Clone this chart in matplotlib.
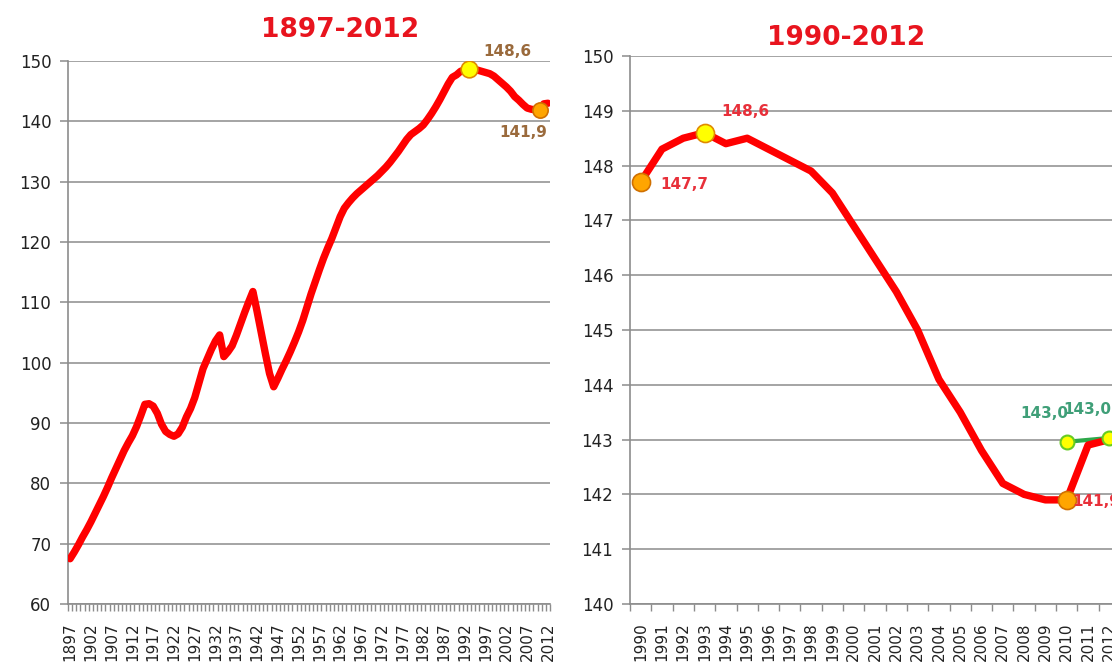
import matplotlib.pyplot as plt

# population, millions
years = list(range(1897, 2013))
population = [
    67.5, 68.6, 69.8,                                                      # 1897-1899
    71.1, 72.3, 73.6, 75.0, 76.4, 77.8, 79.3, 80.9, 82.4, 83.9,            # 1900s
    85.4, 86.7, 87.9, 89.4, 91.2, 93.1, 93.2, 92.8, 91.6, 89.8,            # 1910s
    88.6, 88.1, 87.8, 88.2, 89.3, 91.0, 92.4, 94.2, 96.6, 99.0,            # 1920s
    100.6, 102.2, 103.6, 104.6, 101.0, 101.8, 102.8, 104.5, 106.4, 108.3,  # 1930s
    110.1, 111.8, 108.5, 105.0, 101.5, 98.2, 96.0, 97.4, 98.9, 100.3,      # 1940s
    101.8, 103.4, 105.1, 107.0, 109.2, 111.4, 113.4, 115.4, 117.3, 119.0,  # 1950s
    120.6, 122.4, 124.2, 125.6, 126.5, 127.3, 128.0, 128.6, 129.2, 129.8,  # 1960s
    130.4, 131.0, 131.7, 132.4, 133.2, 134.1, 135.0, 136.0, 137.0, 137.8,  # 1970s
    138.3, 138.8, 139.4, 140.3, 141.3, 142.4, 143.6, 144.9, 146.2, 147.3,  # 1980s
    147.7, 148.3, 148.5, 148.6, 148.4, 148.5, 148.3, 148.1, 147.9, 147.5,  # 1990s
    146.9, 146.3, 145.7, 145.0, 144.1, 143.5, 142.8, 142.2, 142.0, 141.9,  # 2000s
    141.9, 142.9, 143.0,                                                   # 2010-2012
]

# short period on the right panel
short_start = 1990
# second (corrected) series on the right panel
green_years = [2010, 2012]
green_values = [142.96, 143.03]

RED = '#ff0000'
GRID = '#8c8c8c'
YELLOW = '#ffff00'
ORANGE = '#ffa500'

fig = plt.figure(figsize=(11.12, 6.72), dpi=100)
plt.rcParams['font.family'] = 'DejaVu Sans'


def style_axes(ax, n):
    ax.set_xlim(-0.5, n - 0.5)
    for side in ['top', 'right']:
        ax.spines[side].set_visible(False)
    for side in ['left', 'bottom']:
        ax.spines[side].set_color(GRID)
        ax.spines[side].set_linewidth(1.2)
    ax.grid(axis='y', color=GRID, linewidth=1.1)
    ax.set_axisbelow(True)
    ax.set_xticks([i + 0.5 for i in range(-1, n)], minor=True)
    ax.tick_params(axis='x', which='major', length=0, pad=13, labelsize=11,
                   rotation=90, colors='#222222')
    ax.tick_params(axis='x', which='minor', length=5, color=GRID, width=1)
    ax.tick_params(axis='y', length=6, color=GRID, width=1.1, labelsize=12,
                   colors='#222222', pad=6)


# left panel: 1897-2012
ax1 = fig.add_axes([68 / 1112, 68 / 672, 482 / 1112, 543 / 672])
x1 = list(range(len(years)))
ax1.plot(x1, population, color=RED, linewidth=5.3, solid_joinstyle='round',
         solid_capstyle='round', zorder=3)
style_axes(ax1, len(years))
ax1.set_ylim(60, 150)
ax1.set_yticks(range(60, 151, 10))
ax1.set_xticks(x1[::5])
ax1.set_xticklabels([str(y) for y in years[::5]])

i93 = years.index(1993)
i10 = years.index(2010)
ax1.plot(i93, population[i93], 'o', ms=12, mfc=YELLOW, mec='#e08a00', mew=1.2, zorder=4)
ax1.plot(i10, population[i10], 'o', ms=11, mfc=ORANGE, mec='#d07000', mew=1.2, zorder=4)
brown = '#9a6a3c'
ax1.annotate('148,6', (i93, population[i93]), xytext=(14, 18), textcoords='offset pixels',
             ha='left', va='center', color=brown, fontsize=11, fontweight='bold')
ax1.annotate('141,9', (i10, population[i10]), xytext=(8, -23), textcoords='offset pixels',
             ha='right', va='center', color=brown, fontsize=11, fontweight='bold')

# right panel: 1990-2012
s = years.index(short_start)
years2 = years[s:]
pop2 = population[s:]
ax2 = fig.add_axes([630 / 1112, 68 / 672, 490 / 1112, 548 / 672])
x2 = list(range(len(years2)))
gx = [years2.index(y) for y in green_years]
ax2.plot(gx, green_values, color='#2ea84a', linewidth=3, zorder=2)
ax2.plot(x2, pop2, color=RED, linewidth=5.3, solid_joinstyle='round',
         solid_capstyle='round', zorder=3)
ax2.plot(gx, green_values, 'o', ms=10, mfc=YELLOW, mec='#66cc22', mew=1.5, zorder=5)
style_axes(ax2, len(years2))
ax2.set_ylim(140, 150)
ax2.set_yticks(range(140, 151))
ax2.set_xticks(x2)
ax2.set_xticklabels([str(y) for y in years2])

red_lbl = '#e8303a'
for yr, face, edge in [(1990, ORANGE, '#d07000'), (1993, YELLOW, '#e08a00'),
                       (2010, ORANGE, '#d07000')]:
    i = years2.index(yr)
    ax2.plot(i, pop2[i], 'o', ms=13, mfc=face, mec=edge, mew=1.2, zorder=4)
ax2.annotate('147,7', (0, pop2[0]), xytext=(20, -2), textcoords='offset pixels',
             ha='left', va='center', color=red_lbl, fontsize=11, fontweight='bold')
ax2.annotate('148,6', (3, pop2[3]), xytext=(17, 21), textcoords='offset pixels',
             ha='left', va='center', color=red_lbl, fontsize=11, fontweight='bold')
i = years2.index(2010)
ax2.annotate('141,9', (i, pop2[i]), xytext=(6, -2), textcoords='offset pixels',
             ha='left', va='center', color=red_lbl, fontsize=11, fontweight='bold',
             zorder=6)
for gxi, gv in zip(gx, green_values):
    ax2.annotate('143,0', (gxi, gv), xytext=(2, 28), textcoords='offset pixels',
                 ha='right', va='center', color='#3f9f78', fontsize=11,
                 fontweight='bold', zorder=6)

# titles
fig.text(340 / 1112, 1 - 30 / 672, '1897-2012', ha='center', va='center',
         color='#e8141e', fontsize=19, fontweight='bold')
fig.text(846 / 1112, 1 - 38 / 672, '1990-2012', ha='center', va='center',
         color='#e8141e', fontsize=19, fontweight='bold')

fig.savefig('out.png', dpi=100)
